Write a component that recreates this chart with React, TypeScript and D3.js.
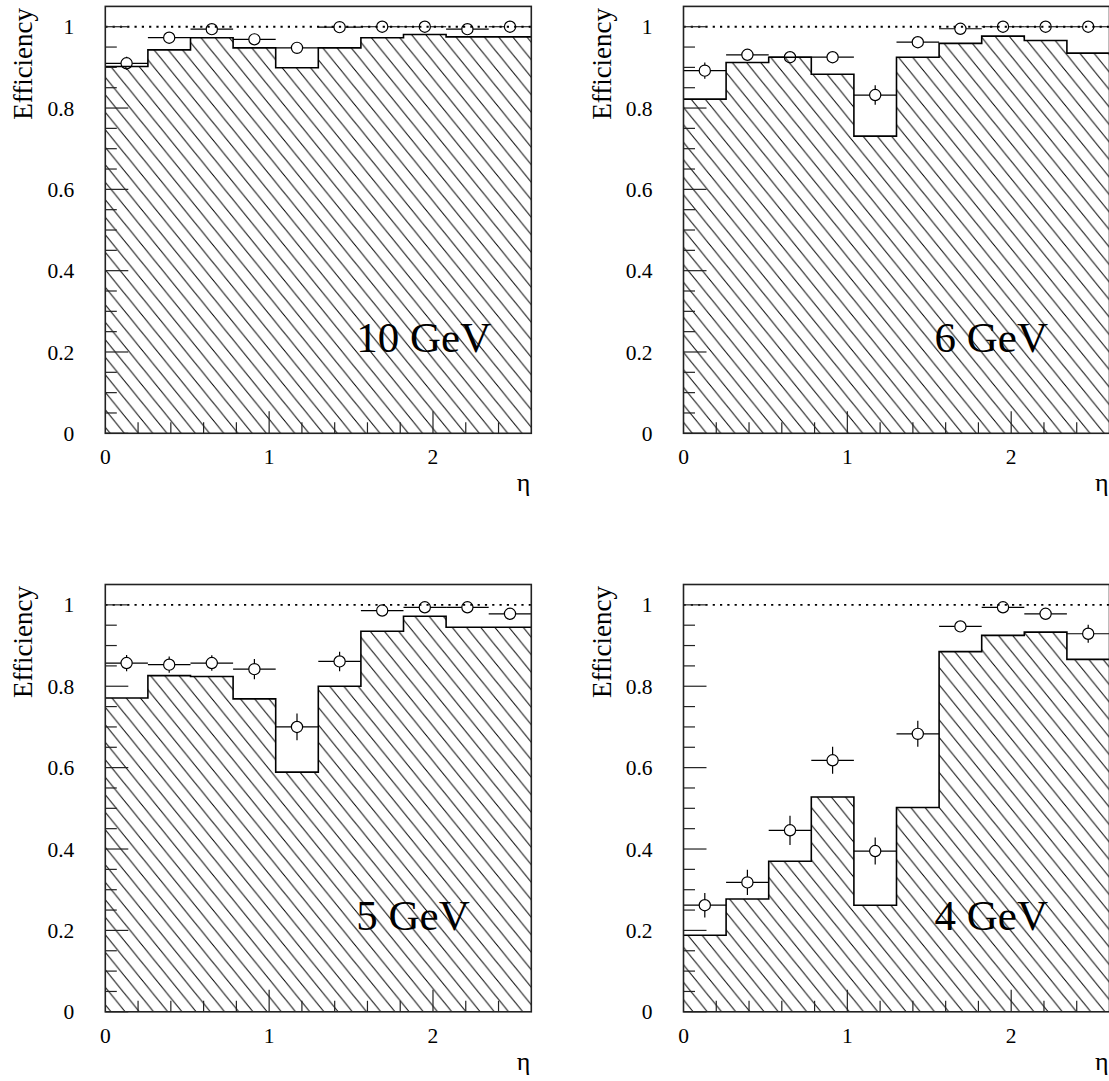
import React, { useEffect } from "react";
import * as d3 from "d3";

// ---------- data ----------
const binEdges = [0, 0.26, 0.52, 0.78, 1.04, 1.3, 1.56, 1.82, 2.08, 2.34, 2.6];
const energyLabels = ["10 GeV", "6 GeV", "5 GeV", "4 GeV"];

const hist10 = [0.902, 0.943, 0.973, 0.948, 0.899, 0.948, 0.973, 0.981, 0.975, 0.975];
const eff10 = [0.91, 0.973, 0.994, 0.969, 0.948, 0.999, 1.0, 1.0, 0.994, 1.0];
const err10 = [0.016, 0.006, 0.004, 0.006, 0.008, 0.002, 0.001, 0.001, 0.004, 0.001];

const hist6 = [0.822, 0.912, 0.925, 0.883, 0.731, 0.925, 0.959, 0.977, 0.966, 0.935];
const eff6 = [0.892, 0.931, 0.925, 0.925, 0.832, 0.962, 0.995, 1.0, 1.0, 1.0];
const err6 = [0.02, 0.008, 0.01, 0.01, 0.024, 0.008, 0.004, 0.001, 0.001, 0.001];

const hist5 = [0.771, 0.826, 0.824, 0.769, 0.589, 0.8, 0.935, 0.972, 0.945, 0.945];
const eff5 = [0.857, 0.853, 0.857, 0.842, 0.7, 0.861, 0.986, 0.994, 0.994, 0.978];
const err5 = [0.02, 0.02, 0.019, 0.025, 0.033, 0.024, 0.008, 0.005, 0.005, 0.008];

const hist4 = [0.188, 0.277, 0.37, 0.528, 0.262, 0.502, 0.885, 0.925, 0.933, 0.866];
const eff4 = [0.262, 0.318, 0.446, 0.618, 0.395, 0.683, 0.947, 0.994, 0.978, 0.929];
const err4 = [0.03, 0.031, 0.036, 0.033, 0.033, 0.032, 0.008, 0.005, 0.007, 0.022];

const yTickValues = [0, 0.2, 0.4, 0.6, 0.8, 1];
const yTickLabels = ["0", "0.2", "0.4", "0.6", "0.8", "1"];
const xTickValues = [0, 1, 2];
const xTickLabels = ["0", "1", "2"];

const panels = [
  { label: energyLabels[0], hist: hist10, eff: eff10, err: err10, left: 105.3, top: 6.4, bottom: 433.3 },
  { label: energyLabels[1], hist: hist6, eff: eff6, err: err6, left: 683.5, top: 6.4, bottom: 433.3 },
  { label: energyLabels[2], hist: hist5, eff: eff5, err: err5, left: 105.3, top: 584.5, bottom: 1011.8 },
  { label: energyLabels[3], hist: hist4, eff: eff4, err: err4, left: 683.5, top: 584.5, bottom: 1011.8 },
];

const PANEL_W = 426;
const SERIF = "Liberation Serif";
const HW = 14.2;
const HH = 17.5;

function Panel({ p, idx }: { p: any; idx: number }) {
  const x = d3.scaleLinear().domain([0, 2.6]).range([p.left, p.left + PANEL_W]);
  const y = d3.scaleLinear().domain([0, 1.05]).range([p.bottom, p.top]);
  const pts: [number, number][] = binEdges.map((e, i) => [e, p.hist[Math.min(i, p.hist.length - 1)]]);
  const area = d3
    .area<[number, number]>()
    .x((d) => x(d[0]))
    .y0(y(0))
    .y1((d) => y(d[1]))
    .curve(d3.curveStepAfter);
  const line = d3
    .line<[number, number]>()
    .x((d) => x(d[0]))
    .y((d) => y(d[1]))
    .curve(d3.curveStepAfter);

  const yMinor = d3.range(0, 1.0001, 0.05);
  const xMinor = d3.range(0.2, 2.59, 0.2);
  const r = 5.6;
  const clipId = `clip${idx}`;
  const x0 = p.left;
  const x1 = p.left + PANEL_W;
  const tickCol = "#222";

  return (
    <g>
      <defs>
        <clipPath id={clipId}>
          <rect x={x0} y={p.top} width={PANEL_W} height={p.bottom - p.top} />
        </clipPath>
      </defs>
      <g clipPath={`url(#${clipId})`}>
        <path d={area(pts) || ""} fill="url(#hatch)" stroke="none" />
        <path d={line(pts) || ""} fill="none" stroke="#000" strokeWidth={1.6} />
        <line x1={x0} x2={x1} y1={y(1)} y2={y(1)} stroke="#000" strokeWidth={1.8} strokeDasharray="2.2,5.1" />
        {p.eff.map((v: number, i: number) => {
          const cx = x((binEdges[i] + binEdges[i + 1]) / 2);
          const cy = y(v);
          const xl = x(binEdges[i]);
          const xr = x(binEdges[i + 1]);
          const yt = y(v + p.err[i]);
          const yb = y(v - p.err[i]);
          return (
            <g key={i} stroke="#000" strokeWidth={1.2} fill="none">
              <line x1={xl} x2={cx - r} y1={cy} y2={cy} />
              <line x1={cx + r} x2={xr} y1={cy} y2={cy} />
              {cy - r > yt && <line x1={cx} x2={cx} y1={yt} y2={cy - r} />}
              {yb > cy + r && <line x1={cx} x2={cx} y1={cy + r} y2={yb} />}
              <circle cx={cx} cy={cy} r={r} />
            </g>
          );
        })}
      </g>
      {/* ticks */}
      {yMinor.map((v, i) => {
        const major = Math.abs(v * 5 - Math.round(v * 5)) < 1e-6;
        return (
          <line key={"ym" + i} x1={x0} x2={x0 + (major ? 23 : 11.5)} y1={y(v)} y2={y(v)} stroke={tickCol} strokeWidth={1.2} />
        );
      })}
      {xMinor.map((v, i) => {
        const major = Math.abs(v - Math.round(v)) < 1e-6;
        return (
          <line key={"xm" + i} x1={x(v)} x2={x(v)} y1={p.bottom} y2={p.bottom - (major ? 22 : 11)} stroke={tickCol} strokeWidth={1.2} />
        );
      })}
      <rect x={x0} y={p.top} width={PANEL_W} height={p.bottom - p.top} fill="none" stroke="#222" strokeWidth={1.6} />
      {/* labels */}
      {yTickValues.map((v, i) => (
        <text key={"yl" + i} x={x0 - 31} y={y(v)} dy="0.35em" textAnchor="end" fontFamily={SERIF} fontSize={21.5} fill="#000">
          {yTickLabels[i]}
        </text>
      ))}
      {xTickValues.map((v, i) => (
        <text key={"xl" + i} x={x(v)} y={p.bottom + 30.7} textAnchor="middle" fontFamily={SERIF} fontSize={21.5} fill="#000">
          {xTickLabels[i]}
        </text>
      ))}
      <text
        transform={`translate(${x0 - 73},${p.top + 1.5}) rotate(-90)`}
        textAnchor="end"
        fontFamily={SERIF}
        fontSize={27}
        fill="#000"
      >
        Efficiency
      </text>
      <text x={x1 - 1} y={p.bottom + 58} textAnchor="end" fontFamily={SERIF} fontSize={26} fill="#000">
        η
      </text>
      <text x={x0 + 251} y={p.top + 345.3} fontFamily={SERIF} fontSize={43} fill="#000">
        {p.label}
      </text>
    </g>
  );
}

export default function App() {
  useEffect(() => {
    document.body.style.margin = "0";
  }, []);
  return (
    <svg
      width={1109}
      height={1081}
      viewBox="0 0 1109 1081"
      style={{ position: "absolute", left: 0, top: 0, display: "block", background: "#fff" }}
    >
      <defs>
        <pattern id="hatch" patternUnits="userSpaceOnUse" width={HW} height={HH}>
          <line x1={-HW} y1={-HH} x2={2 * HW} y2={2 * HH} stroke="#000" strokeWidth={1} />
          <line x1={0} y1={-HH} x2={3 * HW} y2={2 * HH} stroke="#000" strokeWidth={1} />
          <line x1={-2 * HW} y1={-HH} x2={HW} y2={2 * HH} stroke="#000" strokeWidth={1} />
        </pattern>
      </defs>
      <rect x={0} y={0} width={1109} height={1081} fill="#fff" />
      {panels.map((p, i) => (
        <Panel key={i} p={p} idx={i} />
      ))}
    </svg>
  );
}
